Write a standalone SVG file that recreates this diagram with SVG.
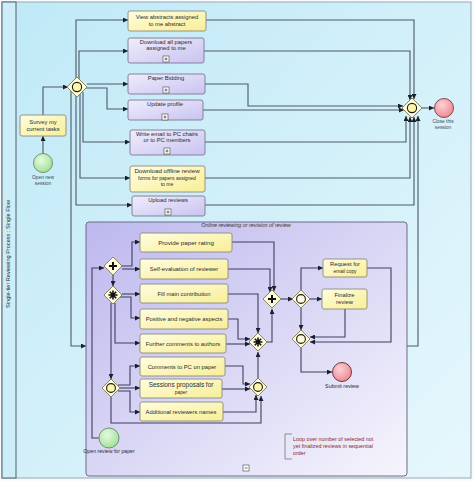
<svg xmlns="http://www.w3.org/2000/svg" width="474" height="481" viewBox="0 0 474 481">
<defs>
<linearGradient id="lane" x1="0" y1="0" x2="1" y2="1"><stop offset="0" stop-color="#bfe9f7"/><stop offset="1" stop-color="#e6f7fc"/></linearGradient>
<linearGradient id="sub" x1="0" y1="0" x2="1" y2="1"><stop offset="0" stop-color="#bdb8ee"/><stop offset="1" stop-color="#f6f5fc"/></linearGradient>
<linearGradient id="yel" x1="0" y1="0" x2="1" y2="1"><stop offset="0" stop-color="#fffde0"/><stop offset="1" stop-color="#f7ee96"/></linearGradient>
<linearGradient id="pur" x1="0" y1="0" x2="1" y2="1"><stop offset="0" stop-color="#efedfd"/><stop offset="1" stop-color="#c9c3f0"/></linearGradient>
<radialGradient id="grn" cx="0.4" cy="0.35" r="0.7"><stop offset="0" stop-color="#e6fbe0"/><stop offset="1" stop-color="#9edf95"/></radialGradient>
<radialGradient id="red" cx="0.4" cy="0.35" r="0.7"><stop offset="0" stop-color="#fcd2d6"/><stop offset="1" stop-color="#ee8590"/></radialGradient>
<marker id="ar" markerUnits="userSpaceOnUse" markerWidth="5" markerHeight="5" refX="5" refY="2.5" orient="auto"><path d="M0,0 L5,2.5 L0,5 z" fill="#1a1f2a"/></marker>
</defs>
<style>
text{font-family:"Liberation Sans",Arial,sans-serif;font-size:5.8px;fill:#2a2a2a;text-anchor:middle}
.y{fill:url(#yel);stroke:#8a8a80;stroke-width:0.9}
.p{fill:url(#pur);stroke:#7b7890;stroke-width:0.9}
.c{fill:none;stroke:#4c5a66;stroke-width:1.1;marker-end:url(#ar)}
.s{fill:none;stroke:#3e3e60;stroke-width:1.1;marker-end:url(#ar)}
.g{fill:#fffbd8;stroke:#8a8660;stroke-width:1}
.gi{fill:#fdf6a8;stroke:#1a1a1a;stroke-width:1.1}
.pl{fill:#fff;stroke:#444;stroke-width:0.6}
.sm{font-size:4.8px;fill:#3b4a5a}
.note{fill:#8a2a2a;text-anchor:start;font-size:5.4px}
</style>
<rect x="0" y="0" width="474" height="481" fill="#f7fbfd"/>
<rect x="2" y="2" width="469" height="476" fill="url(#lane)" stroke="#9aa8b0" stroke-width="1"/>
<rect x="2" y="2" width="14" height="476" fill="#cdeef9" stroke="#50606a" stroke-width="1"/>
<text transform="translate(9.5,254) rotate(-90)" style="font-size:5.6px">Single-tier Reviewing Process : Single Flow</text>

<g id="connectors">
<path class="c" d="M43,153.5 V136"/>
<path class="c" d="M43,115 V87 H68"/>
<path class="c" d="M76,78 V20 H128"/>
<path class="c" d="M79,80 V51 H128"/>
<path class="c" d="M87,84 H128"/>
<path class="c" d="M86,88 H107 V109 H128"/>
<path class="c" d="M83,92 V142 H130"/>
<path class="c" d="M80,94 V178 H130"/>
<path class="c" d="M76,95 V205 H132"/>
<path class="c" d="M71,91 V346 H86"/>
<path class="c" d="M206,20 H414 V99"/>
<path class="c" d="M204,51 H410 V100"/>
<path class="c" d="M205,84 H248 V106 H403"/>
<path class="c" d="M203,110 H404"/>
<path class="c" d="M205,142 H406 V116"/>
<path class="c" d="M205,178 H410 V117"/>
<path class="c" d="M205,205 H414 V117"/>
<path class="c" d="M407,346 H418 V116"/>
<path class="c" d="M422,108 H434"/>
</g>

<g id="subprocess">
<rect x="86" y="222" width="321" height="254" rx="3" fill="url(#sub)" stroke="#6c6a88" stroke-width="1"/>
<text x="246" y="227" style="font-style:italic;font-size:5.4px;fill:#333">Online reviewing or revision of review</text>
<rect x="243" y="465" width="6" height="6" class="pl"/><path d="M244.5,468 H247.5" stroke="#333" stroke-width="0.7"/>
</g>

<g id="lane-nodes">
<g id="survey"><rect class="y" x="20" y="115" width="46" height="21" rx="2"/><text x="43" y="124">Survey my</text><text x="43" y="131">current tasks</text></g>
<g id="open-session"><circle cx="43" cy="163" r="9.5" fill="url(#grn)" stroke="#6a8a6a" stroke-width="0.9"/><text x="43" y="179" class="sm">Open new</text><text x="43" y="185" class="sm">session</text></g>
<g id="split"><path class="g" d="M77,77 L87,87 L77,97 L67,87 z"/><circle class="gi" cx="77" cy="87" r="4.6"/></g>
<g id="view"><rect class="y" x="128" y="11" width="78" height="20" rx="2"/><text x="167" y="19">View abstracts assigned</text><text x="167" y="26">to me abstract</text></g>
<g id="download"><rect class="p" x="128" y="38" width="76" height="25" rx="2"/><text x="166" y="44">Download  all papers</text><text x="166" y="50">assigned to me</text><rect class="pl" x="163" y="56" width="6" height="6"/><path d="M164.5,59 H167.5 M166,57.5 V60.5" stroke="#333" stroke-width="0.7"/></g>
<g id="bidding"><rect class="p" x="128" y="74" width="77" height="20" rx="2"/><text x="166" y="80">Paper Bidding</text><rect class="pl" x="163" y="87" width="6" height="6"/><path d="M164.5,90 H167.5 M166,88.5 V91.5" stroke="#333" stroke-width="0.7"/></g>
<g id="profile"><rect class="p" x="128" y="100" width="75" height="20" rx="2"/><text x="165" y="106">Update profile</text><rect class="pl" x="162" y="114" width="6" height="6"/><path d="M163.5,117 H166.5 M165,115.5 V118.5" stroke="#333" stroke-width="0.7"/></g>
<g id="email"><rect class="p" x="130" y="130" width="75" height="25" rx="2"/><text x="167" y="136">Write email to PC chairs</text><text x="167" y="142">or to PC members</text><rect class="pl" x="164" y="148" width="6" height="6"/><path d="M165.5,151 H168.5 M167,149.5 V152.5" stroke="#333" stroke-width="0.7"/></g>
<g id="offline"><rect class="y" x="130" y="166" width="75" height="26" rx="2"/><text x="167" y="173" style="font-size:6.2px">Download offline review</text><text x="167" y="180" style="font-size:5px">forms for papers assigned</text><text x="167" y="186" style="font-size:5px">to me</text></g>
<g id="upload"><rect class="p" x="132" y="196" width="73" height="20" rx="2"/><text x="168" y="202">Upload reviews</text><rect class="pl" x="165" y="209" width="6" height="6"/><path d="M166.5,212 H169.5 M168,210.5 V213.5" stroke="#333" stroke-width="0.7"/></g>
<g id="close-gw"><path class="g" d="M412,98 L422,108 L412,118 L402,108 z"/><circle class="gi" cx="412" cy="108" r="4.6"/></g>
<g id="close-session"><circle cx="444" cy="108" r="9.5" fill="url(#red)" stroke="#7a3a40" stroke-width="0.9"/><text x="443" y="123" class="sm">Close this</text><text x="443" y="129" class="sm">session</text></g>
</g>

<g id="sub-connectors">
<path class="s" d="M99,438 H92 V268 H104"/>
<path class="s" d="M121,266 H132 V242 H140"/>
<path class="s" d="M122,269 H140"/>
<path class="s" d="M113,275 V286"/>
<path class="s" d="M122,294 H140"/>
<path class="s" d="M120,297 H131 V318 H140"/>
<path class="s" d="M115,303 V343 H140"/>
<path class="s" d="M111,303 V379"/>
<path class="s" d="M118,385 H130 V366 H140"/>
<path class="s" d="M120,388 H140"/>
<path class="s" d="M118,391 H130 V412 H140"/>
<path class="s" d="M111,397 V423 H261 V396"/>
<path class="s" d="M223,412 H256 V395"/>
<path class="s" d="M225,366 H243 V384 H250"/>
<path class="s" d="M222,389 H250"/>
<path class="s" d="M258,378 V352"/>
<path class="s" d="M228,294 H258 V333"/>
<path class="s" d="M228,319 H238 V339 H250"/>
<path class="s" d="M226,344 H250"/>
<path class="s" d="M266,342 H272 V309"/>
<path class="s" d="M232,242 H274 V291"/>
<path class="s" d="M228,269 H270 V292"/>
<path class="s" d="M281,299 H293"/>
<path class="s" d="M301,290 V268 H323"/>
<path class="s" d="M310,299 H322"/>
<path class="s" d="M301,308 V330"/>
<path class="s" d="M367,268 H391 V342 H310"/>
<path class="s" d="M345,309 V337 H310"/>
<path class="s" d="M301,348 V372 H332"/>
</g>

<g id="sub-nodes">
<g id="open-review"><circle cx="109" cy="438" r="10" fill="url(#grn)" stroke="#6a8a6a" stroke-width="0.9"/><text x="109" y="453" style="font-size:5.2px">Open review for paper</text></g>
<g id="par-split"><path class="g" d="M113,257 L122,266 L113,275 L104,266 z"/><path d="M113,262 V270 M109,266 H117" stroke="#111" stroke-width="2"/></g>
<g id="cx-split"><path class="g" d="M113,286 L122,295 L113,304 L104,295 z"/><path d="M113,290.5 V299.5 M108.5,295 H117.5 M109.8,291.8 L116.2,298.2 M116.2,291.8 L109.8,298.2" stroke="#111" stroke-width="1.6"/></g>
<g id="inc-split"><path class="g" d="M111,379 L120,388 L111,397 L102,388 z"/><circle class="gi" cx="111" cy="388" r="4.4"/></g>
<g id="t1"><rect class="y" x="140" y="233" width="92" height="19" rx="2"/><text x="186" y="244.5" style="font-size:6.2px">Provide paper rating</text></g>
<g id="t2"><rect class="y" x="140" y="259" width="88" height="20" rx="2"/><text x="184" y="271">Self-evaluation of reviewer</text></g>
<g id="t3"><rect class="y" x="140" y="284" width="88" height="19" rx="2"/><text x="184" y="295.5">Fill main contribution</text></g>
<g id="t4"><rect class="y" x="140" y="309" width="88" height="20" rx="2"/><text x="184" y="321">Positive and negative aspects</text></g>
<g id="t5"><rect class="y" x="140" y="334" width="86" height="19" rx="2"/><text x="183" y="345.5">Further comments to authors</text></g>
<g id="t6"><rect class="y" x="140" y="357" width="85" height="19" rx="2"/><text x="182" y="368.5">Comments to PC on paper</text></g>
<g id="t7"><rect class="y" x="140" y="379" width="82" height="19" rx="2"/><text x="181" y="387" style="font-size:6.4px">Sessions proposals for</text><text x="181" y="393.5" style="font-size:4.8px">paper</text></g>
<g id="t8"><rect class="y" x="140" y="402" width="83" height="19" rx="2"/><text x="181" y="413.5">Additional reviewers names</text></g>
<g id="par-join"><path class="g" d="M272,290 L281,299 L272,308 L263,299 z"/><path d="M272,295 V303 M268,299 H276" stroke="#111" stroke-width="2"/></g>
<g id="cx-join"><path class="g" d="M258,333 L267,342 L258,351 L249,342 z"/><path d="M258,337.5 V346.5 M253.5,342 H262.5 M254.8,338.8 L261.2,345.2 M261.2,338.8 L254.8,345.2" stroke="#111" stroke-width="1.6"/></g>
<g id="inc-join"><path class="g" d="M258,378 L267,387 L258,396 L249,387 z"/><circle class="gi" cx="258" cy="387" r="4.4"/></g>
<g id="gw-a"><path class="g" d="M301,290 L310,299 L301,308 L292,299 z"/><circle class="gi" cx="301" cy="299" r="4.4" style="fill:#fffbe0"/></g>
<g id="gw-b"><path class="g" d="M301,330 L310,339 L301,348 L292,339 z"/><circle class="gi" cx="301" cy="339" r="4.4" style="fill:#fffbe0"/></g>
<g id="request"><rect class="y" x="323" y="259" width="44" height="18" rx="2"/><text x="345" y="266">Request for</text><text x="345" y="272.5" style="font-size:4.8px">email copy</text></g>
<g id="finalize"><rect class="y" x="322" y="289" width="45" height="20" rx="2"/><text x="344.5" y="297">Finalize</text><text x="344.5" y="303.5">review</text></g>
<g id="submit"><circle cx="342" cy="372" r="9.5" fill="url(#red)" stroke="#5a2a30" stroke-width="0.9"/><text x="342" y="388" style="font-size:5.4px">Submit review</text></g>
<g id="note"><path d="M292,434 H285 V459 H292" fill="none" stroke="#777" stroke-width="0.8"/><text class="note" x="293" y="441">Loop over number of selected not</text><text class="note" x="293" y="448">yet finalized reviews in sequential</text><text class="note" x="293" y="455">order</text></g>
</g>
</svg>
